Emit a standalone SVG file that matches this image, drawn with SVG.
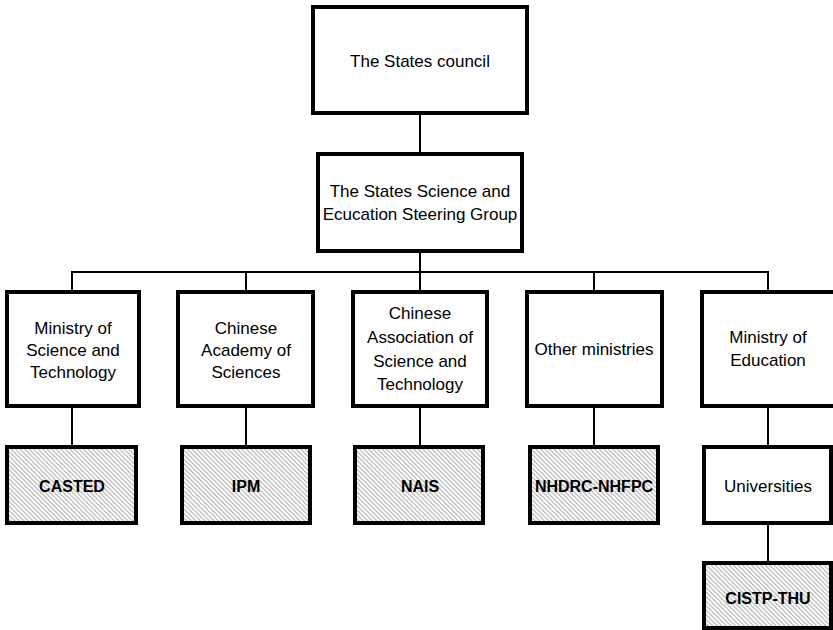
<svg xmlns="http://www.w3.org/2000/svg" width="833" height="630" viewBox="0 0 833 630">
<style>
.box{fill:#fff;stroke:#000;stroke-width:4}
.hbox{fill:url(#hatch);stroke:#000;stroke-width:4}
.conn{stroke:#000;stroke-width:2;fill:none}
text{font-family:"Liberation Sans",Arial,sans-serif;font-size:17px;fill:#000;text-anchor:middle}
text.b{font-weight:bold;font-size:16px}
</style>
<defs>
<pattern id="hatch" patternUnits="userSpaceOnUse" width="3.2" height="3.2" patternTransform="rotate(-45)">
<rect width="3.2" height="3.2" fill="#fff"/>
<line x1="0.6" y1="0" x2="0.6" y2="3.2" stroke="#a8a8a8" stroke-width="1"/>
</pattern>
</defs>
<rect width="833" height="630" fill="#fff"/>
<g id="connectors">
<path class="conn" d="M420,113 V154"/>
<path class="conn" d="M420,251 V272"/>
<path class="conn" d="M72,292 V272 H768 V292"/>
<path class="conn" d="M246,272 V292 M420,272 V292 M594,272 V292"/>
<path class="conn" d="M72,406 V447 M246,406 V447 M420,406 V447 M594,406 V447 M768,406 V447"/>
<path class="conn" d="M768,523 V563"/>
</g>
<g id="states-council">
<rect class="box" x="313" y="7" width="214" height="106"/>
<text x="420" y="67">The States council</text>
</g>
<g id="steering-group">
<rect class="box" x="318" y="154" width="204" height="97"/>
<text x="420" y="197">The States Science and</text>
<text x="420" y="220">Ecucation Steering Group</text>
</g>
<g id="most">
<rect class="box" x="7" y="292" width="132" height="114"/>
<text x="73" y="334">Ministry of</text>
<text x="73" y="356">Science and</text>
<text x="73" y="378">Technology</text>
</g>
<g id="cas">
<rect class="box" x="178" y="292" width="135" height="114"/>
<text x="246" y="334">Chinese</text>
<text x="246" y="356">Academy of</text>
<text x="246" y="378">Sciences</text>
</g>
<g id="cast">
<rect class="box" x="353" y="292" width="134" height="114"/>
<text x="420" y="319">Chinese</text>
<text x="420" y="343">Association of</text>
<text x="420" y="367">Science and</text>
<text x="420" y="390">Technology</text>
</g>
<g id="other-ministries">
<rect class="box" x="527" y="292" width="135" height="114"/>
<text x="594" y="355">Other ministries</text>
</g>
<g id="moe">
<rect class="box" x="702" y="292" width="133" height="114"/>
<text x="768" y="343">Ministry of</text>
<text x="768" y="366">Education</text>
</g>
<g id="casted">
<rect class="hbox" x="7" y="447" width="129" height="76"/>
<text class="b" x="72" y="492">CASTED</text>
</g>
<g id="ipm">
<rect class="hbox" x="182" y="447" width="128" height="76"/>
<text class="b" x="246" y="492">IPM</text>
</g>
<g id="nais">
<rect class="hbox" x="355" y="447" width="128" height="76"/>
<text class="b" x="420" y="492">NAIS</text>
</g>
<g id="nhdrc">
<rect class="hbox" x="530" y="447" width="128" height="76"/>
<text class="b" x="594" y="492">NHDRC-NHFPC</text>
</g>
<g id="universities">
<rect class="box" x="704" y="447" width="127" height="76"/>
<text x="768" y="492">Universities</text>
</g>
<g id="cistp">
<rect class="hbox" x="704" y="563" width="127" height="65"/>
<text class="b" x="768" y="604">CISTP-THU</text>
</g>
</svg>
